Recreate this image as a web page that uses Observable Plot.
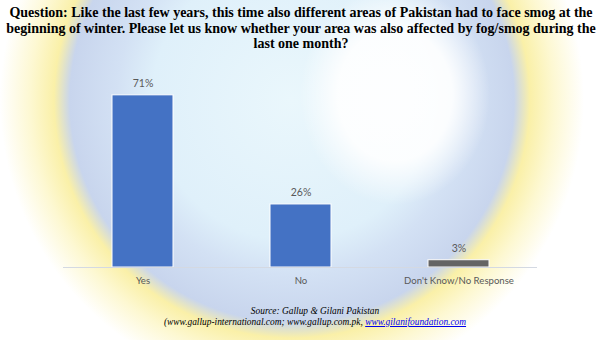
<!DOCTYPE html>
<html>
<head>
<meta charset="utf-8">
<script src="https://cdn.jsdelivr.net/npm/d3@7"></script>
<script src="https://cdn.jsdelivr.net/npm/@observablehq/plot@0.6"></script>
<style>
  html, body { margin: 0; padding: 0; }
  body { width: 602px; height: 340px; overflow: hidden; position: relative; background: #fff; }
  #bg { position: absolute; left: 0; top: 0; width: 602px; height: 340px;
    background:
      radial-gradient(ellipse 95px 110px at 395px 95px, rgba(255,255,255,0.95) 0, rgba(255,255,255,0.9) 60%, rgba(255,255,255,0) 100%),
      radial-gradient(circle at 292px 100px, #eaf7fc 0, #dff0fa 140px, #d3e1f4 175px, #c8d5ed 222px, #faf0a8 238px, #fdf8d2 262px, #ffffff 292px);
  }
  #title { position: absolute; left: 0; top: 5px; width: 602px; text-align: center;
    font-family: "Liberation Serif", "Times New Roman", serif; font-weight: bold; font-size: 14px; line-height: 15.5px; color: #000; }
  #chart { position: absolute; left: 0; top: 60px; }
  #caption { position: absolute; left: 0; top: 306px; width: 630px; text-align: center;
    font-family: "Liberation Serif", "Times New Roman", serif; font-style: italic; font-size: 9.4px; line-height: 10.5px; color: #000; }
  #caption a { color: #0000ee; text-decoration: underline; }
</style>
</head>
<body>
<div id="bg"></div>
<div id="title">Question: Like the last few years, this time also different areas of Pakistan had to face smog at the beginning of winter. Please let us know whether your area was also affected by fog/smog during the last one month?</div>
<div id="chart"></div>
<div id="caption">Source: Gallup &amp; Gilani Pakistan<br>(www.gallup-international.com; www.gallup.com.pk, <a>www.gilanifoundation.com</a></div>
<script>
const categories = ["Yes", "No", "Don't Know/No Response"];
const values = [71, 26, 3];
const valueLabels = ["71%", "26%", "3%"];

const data = categories.map((c, i) => ({ category: c, value: values[i], label: valueLabels[i] }));

const chart = Plot.plot({
  width: 602,
  height: 240,
  marginLeft: 63,
  marginRight: 65,
  marginTop: 13,
  marginBottom: 33,
  style: { background: "transparent", fontFamily: "Lato, 'Open Sans', sans-serif", fontSize: "9.6px", color: "#595959" },
  x: { domain: categories, paddingInner: 0.614, paddingOuter: 0.307, label: null, tickSize: 0, tickPadding: 10 },
  y: { domain: [0, 80], axis: null },
  color: { domain: categories, range: ["#4472c4", "#4472c4", "#646464"] },
  marks: [
    Plot.barY(data, { x: "category", y: "value", fill: "category", stroke: "#ffffff", strokeWidth: 1 }),
    Plot.ruleY([0], { stroke: "#d4d9e2", strokeWidth: 1 }),
    Plot.text(data, { x: "category", y: "value", text: "label", dy: -12, fill: "#595959", fontSize: 10.5 })
  ]
});
document.getElementById("chart").appendChild(chart);
</script>
</body>
</html>
